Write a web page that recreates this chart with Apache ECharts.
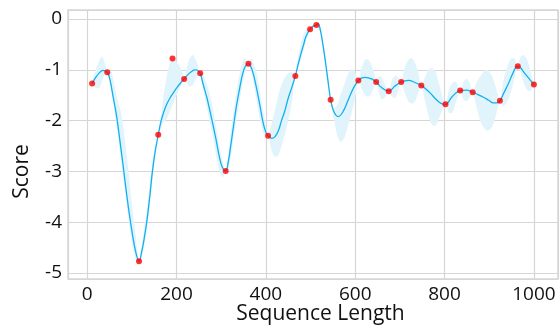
<!DOCTYPE html>
<html><head><meta charset="utf-8">
<script src="https://cdn.jsdelivr.net/npm/echarts@6/dist/echarts.min.js"></script>
<style>html,body{margin:0;padding:0;background:#fff}#c{width:560px;height:326px}</style>
</head><body><div id="c"></div>
<script>
// observed points
var ptX = [11, 45, 116, 159, 191, 217, 253, 310, 361, 405, 466, 499, 513, 545, 607, 647, 675, 703, 748, 802, 835, 863, 924, 964, 1000];
var ptY = [-1.27, -1.05, -4.77, -2.28, -0.78, -1.18, -1.07, -2.99, -0.88, -2.30, -1.12, -0.20, -0.12, -1.59, -1.21, -1.24, -1.42, -1.24, -1.31, -1.68, -1.41, -1.44, -1.61, -0.93, -1.29];

// fitted mean curve
var curveX = [11,19,27,35,45,51,58,66,73,80,88,95,102,109,116,122,128,134,140,146,152,159,165,171,178,185,193,200,208,217,225,233,241,247,253,260,268,275,282,289,296,303,310,316,322,328,334,342,348,354,361,367,373,380,387,394,400,405,413,420,428,435,442,450,458,466,472,478,484,490,499,506,513,517,522,528,533,538,545,552,562,573,584,596,607,615,622,630,637,647,659,675,689,703,711,719,734,748,758,768,782,792,802,816,826,835,849,863,875,887,899,909,917,924,933,943,953,963,970,977,988,1000];
var curveY = [-1.27,-1.15,-1.06,-1.01,-1.05,-1.20,-1.53,-1.92,-2.38,-2.86,-3.43,-3.88,-4.28,-4.60,-4.77,-4.58,-4.30,-3.95,-3.50,-3.00,-2.62,-2.28,-2.02,-1.84,-1.68,-1.56,-1.45,-1.36,-1.27,-1.18,-1.10,-1.04,-1.00,-1.01,-1.07,-1.30,-1.55,-1.82,-2.10,-2.40,-2.72,-2.93,-2.99,-2.80,-2.45,-2.08,-1.72,-1.33,-1.08,-0.93,-0.88,-0.95,-1.12,-1.40,-1.72,-2.05,-2.23,-2.30,-2.35,-2.32,-2.20,-2.00,-1.82,-1.56,-1.35,-1.12,-0.90,-0.70,-0.52,-0.34,-0.20,-0.14,-0.12,-0.09,-0.22,-0.52,-0.82,-1.15,-1.59,-1.82,-1.92,-1.82,-1.60,-1.36,-1.21,-1.16,-1.15,-1.16,-1.18,-1.24,-1.35,-1.42,-1.32,-1.24,-1.22,-1.21,-1.25,-1.31,-1.38,-1.46,-1.59,-1.66,-1.68,-1.54,-1.45,-1.41,-1.40,-1.44,-1.49,-1.54,-1.60,-1.65,-1.65,-1.61,-1.45,-1.27,-1.07,-0.93,-0.96,-1.04,-1.16,-1.29];

// confidence band
var bandX = [11,19,27,33,39,45,52,60,68,76,84,92,100,108,112,116,122,128,134,140,146,152,159,163,170,178,185,193,200,208,213,217,222,229,236,243,248,253,260,268,275,282,289,296,303,310,316,322,328,334,342,348,354,361,367,373,380,387,394,400,405,413,420,428,435,442,450,458,466,472,478,484,490,499,506,513,522,528,533,538,545,552,560,567,575,584,592,600,607,615,622,630,637,642,647,653,659,666,675,682,689,696,703,711,719,727,734,741,748,756,764,772,780,790,802,810,818,826,835,842,849,856,863,872,882,895,905,915,924,932,942,950,957,963,970,977,985,992,1000];
var bandHi = [-1.27,-1.00,-0.82,-0.74,-0.85,-1.05,-1.00,-1.25,-1.60,-1.85,-2.35,-2.95,-3.65,-4.20,-4.55,-4.77,-4.45,-4.10,-3.70,-3.25,-2.80,-2.50,-2.28,-2.09,-1.55,-1.14,-0.87,-0.77,-0.84,-0.94,-1.05,-1.18,-1.00,-0.78,-0.71,-0.80,-0.92,-1.07,-1.10,-1.30,-1.50,-1.80,-2.15,-2.50,-2.80,-2.99,-2.65,-2.20,-1.80,-1.45,-1.05,-0.85,-0.78,-0.88,-0.78,-0.88,-1.10,-1.45,-1.80,-2.10,-2.30,-2.05,-1.80,-1.50,-1.30,-1.15,-1.07,-1.05,-1.12,-0.75,-0.50,-0.30,-0.20,-0.20,-0.12,-0.12,-0.16,-0.44,-0.72,-1.05,-1.59,-1.75,-1.70,-1.50,-1.30,-1.08,-0.98,-1.05,-1.21,-0.95,-0.80,-0.80,-0.92,-1.05,-1.24,-1.12,-1.14,-1.28,-1.42,-1.20,-1.12,-1.15,-1.24,-0.95,-0.80,-0.77,-0.87,-1.05,-1.31,-1.15,-1.00,-0.97,-1.05,-1.35,-1.68,-1.40,-1.25,-1.24,-1.41,-1.25,-1.17,-1.25,-1.44,-1.25,-1.10,-1.00,-1.10,-1.35,-1.61,-1.20,-0.90,-0.77,-0.78,-0.93,-0.75,-0.71,-0.80,-1.00,-1.29];
var bandLo = [-1.27,-1.36,-1.36,-1.22,-1.10,-1.05,-1.30,-1.75,-2.25,-2.80,-3.35,-3.90,-4.40,-4.72,-4.78,-4.80,-4.68,-4.45,-4.10,-3.65,-3.15,-2.70,-2.28,-2.20,-2.05,-1.97,-1.82,-1.66,-1.50,-1.35,-1.25,-1.18,-1.25,-1.33,-1.30,-1.20,-1.12,-1.07,-1.40,-1.75,-2.05,-2.35,-2.70,-3.00,-3.12,-2.99,-2.95,-2.70,-2.35,-1.98,-1.58,-1.28,-1.05,-0.88,-1.05,-1.30,-1.65,-1.98,-2.25,-2.35,-2.30,-2.60,-2.71,-2.68,-2.50,-2.30,-2.00,-1.65,-1.12,-1.00,-0.82,-0.63,-0.42,-0.20,-0.16,-0.12,-0.28,-0.60,-0.92,-1.25,-1.59,-1.95,-2.30,-2.42,-2.35,-2.10,-1.85,-1.55,-1.21,-1.38,-1.50,-1.53,-1.45,-1.35,-1.24,-1.45,-1.58,-1.55,-1.42,-1.52,-1.56,-1.42,-1.24,-1.45,-1.62,-1.67,-1.62,-1.45,-1.31,-1.60,-1.90,-2.08,-2.10,-1.90,-1.68,-1.85,-1.84,-1.62,-1.41,-1.58,-1.62,-1.55,-1.44,-1.75,-2.05,-2.20,-2.15,-1.90,-1.61,-1.72,-1.60,-1.40,-1.15,-0.93,-1.05,-1.25,-1.40,-1.42,-1.29];

var xTitle = 'Sequence Length';
var yTitle = 'Score';

var pts = ptX.map(function(x,i){return [x, ptY[i]];});
var curve = curveX.map(function(x,i){return [x, curveY[i]];});
var band = bandX.map(function(x,i){return [x, bandHi[i], bandLo[i]];});

var FONT = 'Open Sans';
var chart = echarts.init(document.getElementById('c'), null, {renderer:'canvas'});
chart.setOption({
  animation: false,
  backgroundColor: '#fff',
  grid: {left: 68, top: 10, right: 2, bottom: 47, containLabel: false, outerBoundsMode: 'none',
         show: true, borderColor: '#d6d6d6', borderWidth: 1.5},
  xAxis: {
    type: 'value', min: -43, max: 1054, splitNumber: 5,
    axisLine: {show: false}, axisTick: {show: false},
    axisLabel: {fontFamily: FONT, fontSize: 19, color: '#111', margin: 6, showMinLabel: false, showMaxLabel: false,
      formatter: function(v){return String(v);}},
    splitLine: {lineStyle: {color: '#d6d6d6', width: 1.2}},
    name: xTitle, nameLocation: 'middle', nameGap: 25, nameMoveOverlap: false,
    nameTextStyle: {fontFamily: FONT, fontSize: 21, color: '#111', padding: [0,0,0,15]}
  },
  yAxis: {
    type: 'value', min: -5.118, max: 0.177, splitNumber: 5,
    axisLine: {show: false}, axisTick: {show: false},
    axisLabel: {fontFamily: FONT, fontSize: 19, color: '#111', margin: 6, showMinLabel: false, showMaxLabel: false,
      formatter: function(v){return String(v);}},
    splitLine: {lineStyle: {color: '#d6d6d6', width: 1.2}},
    name: yTitle, nameLocation: 'middle', nameGap: 35, nameRotate: 90,
    nameTextStyle: {fontFamily: FONT, fontSize: 21, color: '#111', padding: [0,54,0,0]}
  },
  series: [
    {type: 'custom', data: band, silent: true, z: 1, clip: true,
     encode: {x: 0, y: [1, 2]},
     renderItem: function(params, api){
       if (params.dataIndexInside !== 0) return null;
       var top = [], bot = [];
       for (var i = 0; i < band.length; i++) {
         top.push(api.coord([band[i][0], band[i][1]]));
         bot.push(api.coord([band[i][0], band[i][2]]));
       }
       var poly = top.concat(bot.reverse());
       return {type: 'polygon', shape: {points: poly, smooth: 0.25},
               style: {fill: '#e1f4fc', stroke: null}};
     }},
    {type: 'line', data: curve, smooth: 0.4, showSymbol: false,
     lineStyle: {color: '#10b0f0', width: 1.3}, z: 2},
    {type: 'scatter', data: pts, symbolSize: 6, itemStyle: {color: '#ff0000'}, z: 3}
  ]
});
</script></body></html>
